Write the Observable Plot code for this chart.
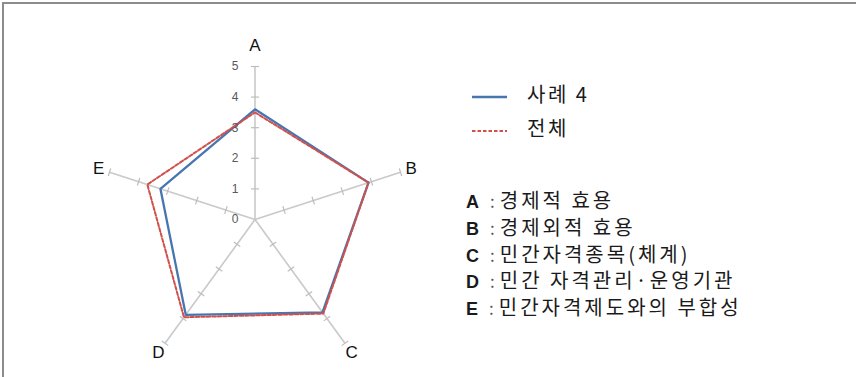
<!DOCTYPE html>
<html><head><meta charset="utf-8">
<script src="https://cdn.jsdelivr.net/npm/d3@7"></script>
<script src="https://cdn.jsdelivr.net/npm/@observablehq/plot@0.6"></script>
<style>
body{margin:0;background:#fff;}
#wrap{position:relative;width:856px;height:377px;overflow:hidden;background:#fff;}
#frame{position:absolute;left:2px;top:2px;width:870px;height:373px;border-top:2px solid #8c8c8c;border-left:2px solid #8c8c8c;border-bottom:1px solid #e2e2e2;pointer-events:none;}
#chart{position:absolute;left:0;top:0;}
.leg{position:absolute;font-family:"Noto Sans CJK KR","Liberation Sans",sans-serif;color:#1a1a1a;white-space:nowrap;font-weight:400;}
.series{left:472px;font-size:20px;letter-spacing:2.5px;}
.series svg{vertical-align:middle;margin-right:20px;}
.desc{left:466px;top:188px;font-size:20px;line-height:23.75px;letter-spacing:3px;}
.desc b{font-family:"Liberation Sans",sans-serif;font-weight:bold;letter-spacing:0;font-size:18px;}
.desc .colon{color:#555;margin:0 5px 0 11px;letter-spacing:0;font-size:17px;}
</style>
</head><body>
<div id="wrap"><div id="chart"></div><div id="legend"></div><div id="frame"></div></div>
<script>
const categories = ["A", "B", "C", "D", "E"];
const descriptions = ["경제적 효용", "경제외적 효용", "민간자격종목(체계)", "민간 자격관리·운영기관", "민간자격제도와의 부합성"];
const seriesNames = ["사례 4", "전체"];
const case4 = [3.6, 3.9, 3.75, 3.85, 3.25];
const overall = [3.5, 3.9, 3.8, 3.95, 3.7];
const tickValues = [0, 1, 2, 3, 4, 5];
const maxValue = 5;

const colors = ["#4676b0", "#d0504c"];
const n = categories.length;
const angle = i => Math.PI / 2 - i * 2 * Math.PI / n;
const px = (i, r) => r * Math.cos(angle(i));
const py = (i, r) => r * Math.sin(angle(i));

const axesData = categories.map((c, i) => ({c, x1: 0, y1: 0, x2: px(i, maxValue), y2: py(i, maxValue)}));
const tickHalf = 0.13;
const tickData = [];
categories.forEach((c, i) => {
  tickValues.filter(v => v > 0).forEach(v => {
    const a = angle(i), nx = -Math.sin(a), ny = Math.cos(a);
    tickData.push({x1: px(i, v) - tickHalf * nx, y1: py(i, v) - tickHalf * ny, x2: px(i, v) + tickHalf * nx, y2: py(i, v) + tickHalf * ny});
  });
});
const seriesPts = vals => vals.map((v, i) => ({x: px(i, v), y: py(i, v)}));
const labelR = i => maxValue + (i === 0 ? 0.7 : 0.37);

const unit = 30.6, cx = 254.5, cy = 219;
const chart = Plot.plot({
  width: 856, height: 377, margin: 0,
  style: {background: "transparent", overflow: "visible"},
  x: {type: "linear", domain: [0, maxValue], range: [cx, cx + maxValue * unit], axis: null},
  y: {type: "linear", domain: [0, maxValue], range: [cy, cy - maxValue * unit], axis: null},
  marks: [
    Plot.link(axesData, {x1: "x1", y1: "y1", x2: "x2", y2: "y2", stroke: "#c9c9c9", strokeWidth: 1.6}),
    Plot.link(tickData, {x1: "x1", y1: "y1", x2: "x2", y2: "y2", stroke: "#bdbdbd", strokeWidth: 1.2}),
    Plot.line(seriesPts(case4), {x: "x", y: "y", curve: "linear-closed", stroke: colors[0], strokeWidth: 2.3}),
    Plot.line(seriesPts(overall), {x: "x", y: "y", curve: "linear-closed", stroke: colors[1], strokeWidth: 2, strokeDasharray: "3.5,2"}),
    Plot.text(tickValues, {x: 0, y: d => d, text: d => String(d), dx: -20, fontSize: 12, fill: "#595959", fontFamily: "Liberation Sans, sans-serif"}),
    Plot.text(categories, {x: (d, i) => px(i, labelR(i)), y: (d, i) => py(i, labelR(i)), text: d => d, fontSize: 17, fill: "#111", fontFamily: "Liberation Sans, sans-serif"})
  ]
});
document.getElementById("chart").appendChild(chart);

const legend = document.getElementById("legend");
const seriesTops = [79, 113];
seriesNames.forEach((name, k) => {
  const d = document.createElement("div");
  d.className = "leg series";
  d.style.top = seriesTops[k] + "px";
  d.innerHTML = `<svg width="35" height="6"><line x1="0" y1="3" x2="35" y2="3" stroke="${colors[k]}" stroke-width="${k ? 2 : 2.3}" ${k ? 'stroke-dasharray="3.5,2"' : ''}/></svg>${name}`;
  legend.appendChild(d);
});
const desc = document.createElement("div");
desc.className = "leg desc";
desc.innerHTML = categories.map((c, i) => `<div><b>${c}</b><span class="colon">:</span>${descriptions[i]}</div>`).join("");
legend.appendChild(desc);
</script>
</body></html>
